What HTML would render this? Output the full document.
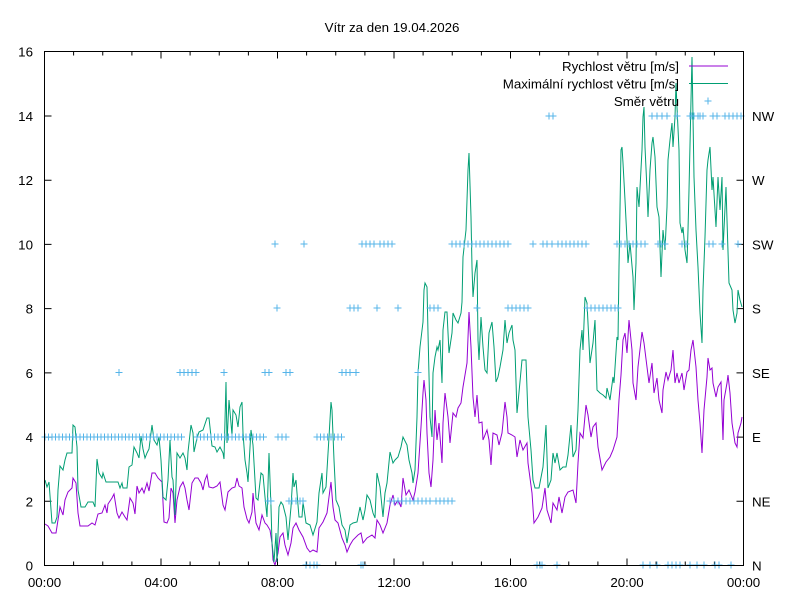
<!DOCTYPE html>
<html><head><meta charset="utf-8"><style>
html,body{margin:0;padding:0;background:#fff;}
svg{display:block;}
text{font-family:"Liberation Sans",Arial,sans-serif;font-size:13.33px;fill:#000;}
</style></head><body>
<svg width="800" height="600" viewBox="0 0 800 600" xmlns="http://www.w3.org/2000/svg">
<defs>
<marker id="m" markerUnits="userSpaceOnUse" markerWidth="10" markerHeight="10" refX="5" refY="5" overflow="visible">
<path d="M1.5 5h7M5 1.5v7" stroke="#56b4e9" stroke-width="1" fill="none"/>
</marker>
</defs>
<rect width="800" height="600" fill="#fff"/>
<text x="392" y="32" text-anchor="middle">Vítr za den 19.04.2026</text>

<!-- ticks -->
<g stroke="#000" stroke-width="1" fill="none">
<path d="M44.5 565.5h7M44.5 501.3h7M44.5 437.1h7M44.5 372.9h7M44.5 308.6h7M44.5 244.4h7M44.5 180.2h7M44.5 116h7M44.5 51.5h7"/>
<path d="M743.5 501.3h-7M743.5 437.1h-7M743.5 372.9h-7M743.5 308.6h-7M743.5 244.4h-7M743.5 180.2h-7M743.5 116h-7"/>
<path d="M161 565.5v-7M277.5 565.5v-7M394 565.5v-7M510.5 565.5v-7M627 565.5v-7
M161 51.5v7M277.5 51.5v7M394 51.5v7M510.5 51.5v7M627 51.5v7
M73.6 565.5v-4M102.75 565.5v-4M131.9 565.5v-4M190.1 565.5v-4M219.25 565.5v-4M248.4 565.5v-4M306.6 565.5v-4M335.75 565.5v-4M364.9 565.5v-4M423.1 565.5v-4M452.25 565.5v-4M481.4 565.5v-4M539.6 565.5v-4M568.75 565.5v-4M597.9 565.5v-4M656.1 565.5v-4M685.25 565.5v-4M714.4 565.5v-4
M73.6 51.5v4M102.75 51.5v4M131.9 51.5v4M190.1 51.5v4M219.25 51.5v4M248.4 51.5v4M306.6 51.5v4M335.75 51.5v4M364.9 51.5v4M423.1 51.5v4M452.25 51.5v4M481.4 51.5v4M539.6 51.5v4M568.75 51.5v4M597.9 51.5v4M656.1 51.5v4M685.25 51.5v4M714.4 51.5v4"/>
</g>

<!-- y labels left -->
<g text-anchor="end">
<text x="33" y="570.5">0</text>
<text x="33" y="506.3">2</text>
<text x="33" y="442.1">4</text>
<text x="33" y="377.9">6</text>
<text x="33" y="313.6">8</text>
<text x="33" y="249.4">10</text>
<text x="33" y="185.2">12</text>
<text x="33" y="121">14</text>
<text x="33" y="56.5">16</text>
</g>
<!-- y labels right -->
<g>
<text x="752" y="570.5">N</text>
<text x="752" y="506.3">NE</text>
<text x="752" y="442.1">E</text>
<text x="752" y="377.9">SE</text>
<text x="752" y="313.6">S</text>
<text x="752" y="249.4">SW</text>
<text x="752" y="185.2">W</text>
<text x="752" y="121">NW</text>
</g>
<!-- x labels -->
<g text-anchor="middle">
<text x="44.5" y="587">00:00</text>
<text x="161" y="587">04:00</text>
<text x="277.5" y="587">08:00</text>
<text x="394" y="587">12:00</text>
<text x="510.5" y="587">16:00</text>
<text x="627" y="587">20:00</text>
<text x="743.5" y="587">00:00</text>
</g>

<!-- purple: speed -->
<polyline fill="none" stroke="#9400d3" stroke-width="1" stroke-linejoin="miter" points="45,524 48,526 52,533 56,533 60,507 63,515 65,500 68,492 72,488 73,478 76,483 78,513 80,526 88,526 92,523 95,525 98,514 102,513 105,505 107,513 108,504 112,498 114,494 117,513 119,518 122,512 125,517 127,520 130,498 133,503 135,514 137,486 139,493 142,488 144,493 147,483 149,491 152,473 155,473 158,478 162,482 164,522 167,523 169,518 171,488 173,493 175,523 177,500 180,487 183,482 185,488 187,500 189,510 192,483 195,478 198,478 201,483 203,490 205,480 207,475 209,487 213,488 217,486 220,482 223,505 225,510 228,492 232,488 235,487 237,478 239,486 242,488 244,507 247,519 249,523 252,512 253,493 256,523 259,530 262,515 265,523 267,525 270,530 272,543 273,560 275,565 278,553 280,537 283,533 285,545 288,555 291,543 293,528 296,523 299,530 303,537 307,548 310,552 313,550 317,552 319,528 323,522 327,513 329,497 331,482 333,507 335,520 338,523 342,538 345,545 347,552 350,545 353,540 358,535 361,533 363,543 367,538 372,535 375,538 377,520 380,525 383,533 387,523 390,505 393,495 395,505 398,500 401,507 403,478 406,495 409,490 413,500 415,492 418,473 421,427 423,393 424,380 426,400 427,433 429,473 431,487 433,460 435,410 437,440 439,423 442,463 443,423 445,393 448,417 450,443 453,413 456,417 458,408 461,403 463,387 467,363 469,312 471,347 473,397 475,417 477,395 479,423 482,422 483,440 487,430 489,440 491,465 493,433 497,435 499,445 502,433 505,402 507,417 508,433 512,435 515,437 517,457 520,440 523,450 527,443 528,463 532,493 534,523 538,517 542,508 545,488 547,510 551,523 553,503 557,510 559,497 562,513 565,497 568,492 573,490 576,503 578,463 580,433 583,438 586,405 588,415 591,437 593,427 596,423 598,447 602,470 606,462 610,457 613,450 617,437 619,400 621,375 623,340 625,333 627,353 629,320 632,350 633,383 636,400 638,367 642,332 644,343 647,367 649,383 652,363 654,393 657,378 659,400 662,413 663,390 666,372 668,380 671,370 673,350 675,383 677,373 679,383 682,373 684,390 687,372 689,370 691,350 693,340 696,367 698,400 700,423 702,453 704,410 707,377 708,358 710,370 712,368 713,383 716,397 718,387 721,382 723,440 724,400 727,383 728,375 730,393 732,423 735,443 737,447 738,433 741,423 742,417"/>

<!-- green: max speed -->
<polyline fill="none" stroke="#009e73" stroke-width="1" stroke-linejoin="miter" points="45,480 47,487 49,482 52,523 55,523 57,517 58,490 60,466 63,470 65,460 67,453 72,453 73,425 75,427 77,447 78,490 81,507 85,507 88,502 93,502 95,507 97,459 99,473 102,478 103,473 106,482 118,482 120,488 122,483 123,488 127,488 129,467 132,465 134,447 137,453 139,458 141,436 143,449 145,458 147,453 149,449 152,425 154,440 157,445 159,437 161,460 163,497 166,500 168,480 170,440 172,477 173,480 175,515 177,453 180,458 183,453 185,458 187,470 188,452 191,425 193,433 194,452 197,438 199,432 203,430 207,418 209,418 212,446 215,447 217,452 220,447 223,453 224,459 226,382 227,443 229,400 232,435 233,410 236,415 238,427 240,407 242,402 243,433 245,460 247,473 248,482 251,430 253,445 256,498 258,500 261,473 263,475 265,497 267,517 269,453 271,507 272,543 274,562 276,533 277,562 279,507 281,502 283,505 286,517 288,540 291,507 293,473 294,487 296,480 297,493 299,517 302,517 303,502 306,523 310,525 313,535 317,522 319,493 322,473 323,493 326,487 327,470 329,437 331,402 332,410 334,460 336,500 339,507 342,525 345,530 347,543 350,525 353,523 357,522 360,507 363,520 365,510 367,495 370,500 373,513 375,518 377,473 380,487 383,517 385,493 387,483 390,452 393,463 395,460 398,457 401,447 403,437 407,445 409,460 412,473 413,483 415,470 417,417 418,373 420,347 423,322 424,290 425,283 427,287 428,333 430,417 432,437 433,373 435,357 437,347 438,350 440,340 442,383 443,330 445,312 447,312 449,353 452,333 453,313 456,320 458,323 461,313 462,302 463,257 464,248 466,230 467,200 468,170 469,153 471,217 472,267 473,297 475,273 477,260 478,340 479,360 481,317 483,347 485,370 487,373 489,333 492,322 494,347 496,382 498,377 500,367 503,350 505,320 507,343 509,333 512,325 513,340 515,350 517,413 518,403 522,360 526,360 528,417 531,450 533,480 535,488 539,488 543,467 546,425 548,488 551,480 553,453 555,463 557,453 560,470 563,467 566,467 568,455 571,425 573,457 576,450 578,410 580,350 582,330 583,350 585,297 587,303 590,363 593,343 595,320 597,390 600,393 603,395 606,398 607,388 610,400 613,377 614,383 617,337 618,340 619,267 621,150 622,147 623,163 625,200 627,240 628,263 630,243 633,277 634,310 636,263 637,187 639,207 642,150 643,117 644,107 645,147 647,190 648,217 650,170 652,143 653,137 655,157 657,207 659,217 661,277 663,230 665,250 667,207 668,160 670,140 672,123 673,147 675,117 676,83 677,107 679,150 680,223 682,233 683,227 685,250 687,263 688,230 689,190 691,100 692,57 693,117 694,177 696,230 698,267 700,313 702,343 703,290 705,237 707,170 708,160 710,147 712,190 713,177 716,227 718,177 720,210 722,177 723,250 726,187 727,220 729,283 732,290 733,310 735,323 737,313 738,290 740,300 742,307"/>

<!-- direction markers -->
<g fill="none" stroke="none" marker-start="url(#m)" marker-mid="url(#m)" marker-end="url(#m)">
<polyline points="45,437 48.5,437 52,437 55.5,437 59,437 62.5,437 66,437 69.5,437 73,437 76.5,437 80,437 83.5,437 87,437 90.5,437 94,437 97.5,437 101,437 104.5,437 108,437 111.5,437 115,437 118.5,437 122,437 125.5,437 129,437 132.5,437 136,437 139.5,437 143,437 146.5,437 150,437 153.5,437 157,437 160.5,437 164,437 167.5,437 171,437 174.5,437 178,437 181.5,437 197,437 200.5,437 204,437 207.5,437 211,437 214.5,437 218,437 221.5,437 225,437 228.5,437 232,437 235.5,437 239,437 242.5,437 246,437 249.5,437 253,437 256.5,437 260,437 263.5,437 278,437 282,437 286,437 317,437 320.5,437 324,437 327.5,437 331,437 334.5,437 338,437 341.5,437"/>
<polyline points="119,372.5 180,372.5 184,372.5 188,372.5 192,372.5 196,372.5 224,372.5 265,372.5 269,372.5 286,372.5 290,372.5 342,372.5 346,372.5 350,372.5 356,372.5 418,372.5"/>
<polyline points="277,308 350,308 354,308 358,308 377,308 398,308 430,308 434,308 438,308 477,308 508,308 512,308 516,308 520,308 524,308 528,308 587,308 591,308 595,308 599,308 603,308 607,308 611,308 615,308 618,308"/>
<polyline points="275,244 304,244 362,244 366,244 370,244 374,244 380,244 384,244 388,244 392,244 452,244 456,244 460,244 464,244 468,244 472,244 476,244 480,244 484,244 488,244 492,244 496,244 500,244 504,244 508,244 533,244 543,244 547,244 552,244 558,244 562,244 566,244 570,244 574,244 578,244 582,244 586,244 617,244 621,244 625,244 629,244 633,244 637,244 641,244 645,244 658,244 661,244 665,244 682,244 686,244 709,244 713,244 722,244 738,244"/>
<polyline points="549,116 553,116 652,116 657,116 662,116 667,116 677,116 690,116 692,116 694,116 698,116 700,116 703,116 713,116 717,116 725,116 729,116 733,116 737,116 741,116"/>
<polyline points="268,501 271,501 289,501 292,501 296,501 300,501 303,501 390,501 394,501 398,501 402,501 406,501 410,501 414,501 418,501 422,501 426,501 430,501 436,501 440,501 444,501 448,501 452,501"/>
<polyline points="306,565 310,565 314,565 317,565 361,565 363,565 537,565 540,565 542,565 557,565 643,565 650,565 657,565 668,565 672,565 676,565 680,565 690,565 697,565 704,565 715,565 719,565 731,565"/>
</g>

<!-- legend -->
<g text-anchor="end">
<text x="679" y="71">Rychlost větru [m/s]</text>
<text x="679" y="88.5">Maximální rychlost větru [m/s]</text>
<text x="679" y="106">Směr větru</text>
</g>
<path d="M689 66h39" stroke="#9400d3" stroke-width="1"/>
<path d="M689 83.5h39" stroke="#009e73" stroke-width="1"/>
<path d="M704.5 101h7M708 97.5v7" stroke="#56b4e9" stroke-width="1"/>

<!-- border -->
<rect x="44.5" y="51.5" width="699" height="514" fill="none" stroke="#000" stroke-width="1"/>
</svg>
</body></html>
